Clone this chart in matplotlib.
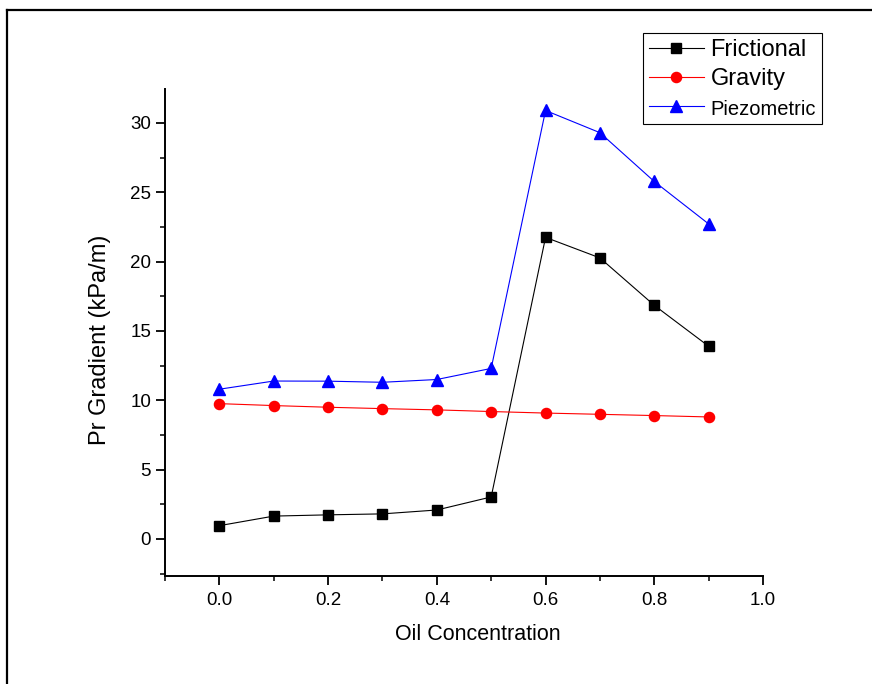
import matplotlib
matplotlib.use('Agg')
import matplotlib.pyplot as plt
from matplotlib.lines import Line2D
from matplotlib.ticker import MultipleLocator

plt.rcParams['font.family'] = ['Liberation Sans', 'DejaVu Sans']

# oil fraction in the mixture
oil_conc = [0.0, 0.1, 0.2, 0.3, 0.4, 0.5, 0.6, 0.7, 0.8, 0.9]

# pressure gradient components, kPa/m
frictional = [0.96, 1.65, 1.74, 1.81, 2.09, 3.03, 21.75, 20.27, 16.85, 13.9]
gravity = [9.76, 9.62, 9.5, 9.4, 9.31, 9.19, 9.08, 8.99, 8.9, 8.8]
piezometric = [10.8, 11.39, 11.38, 11.3, 11.5, 12.3, 30.9, 29.3, 25.78, 22.72]

series_names = ['Frictional', 'Gravity', 'Piezometric']
legend_sizes = [17, 17, 14.5]

fig = plt.figure(figsize=(8.72, 6.84), dpi=100)
ax = fig.add_axes([165 / 872, 108 / 684, 598 / 872, 487 / 684])

ax.plot(oil_conc, frictional, color='black', lw=0.8, marker='s', ms=6.7,
        label=series_names[0])
ax.plot(oil_conc, gravity, color='red', lw=0.8, marker='o', ms=7.3,
        label=series_names[1])
ax.plot(oil_conc, piezometric, color='blue', lw=0.8, marker='^', ms=8.5,
        label=series_names[2])

ax.set_xlim(-0.1, 1.0)
ax.set_ylim(-2.67, 32.45)
ax.xaxis.set_major_locator(MultipleLocator(0.2))
ax.xaxis.set_minor_locator(MultipleLocator(0.1))
ax.yaxis.set_major_locator(MultipleLocator(5))
ax.yaxis.set_minor_locator(MultipleLocator(2.5))
ax.xaxis.set_major_formatter(plt.FormatStrFormatter('%.1f'))

for side in ['top', 'right']:
    ax.spines[side].set_visible(False)
for side in ['left', 'bottom']:
    ax.spines[side].set_linewidth(1.4)

ax.tick_params(which='major', direction='out', length=6.5, width=1.3,
               labelsize=13.5)
ax.tick_params(axis='y', which='major', pad=3.5)
ax.tick_params(axis='x', which='major', pad=5)
ax.tick_params(which='minor', direction='out', length=3.6, width=1.1)

ax.set_xlabel('Oil Concentration', fontsize=15.5)
ax.set_ylabel('Pr Gradient (kPa/m)', fontsize=17)
ax.xaxis.set_label_coords((478 - 165) / 598, -(634 - 576) / 487)
ax.yaxis.set_label_coords(-(165 - 100) / 598, (576 - 340) / 487)
ax.xaxis.label.set_va('center')
ax.yaxis.label.set_va('center')

leg = ax.legend(loc='upper right', bbox_to_anchor=(822 / 872, 1 - 33 / 684),
                bbox_transform=fig.transFigure, fancybox=False, shadow=False,
                edgecolor='black', framealpha=1, handlelength=2.3,
                handletextpad=0.3, borderpad=0.25, labelspacing=0.32,
                borderaxespad=0, fontsize=17)
leg.get_frame().set_linewidth(0.8)
for txt, fs in zip(leg.get_texts(), legend_sizes):
    txt.set_fontsize(fs)

# frame lines along the top and left of the figure
fig.add_artist(Line2D([7 / 872, 7 / 872], [0, 1 - 10 / 684],
                      transform=fig.transFigure, color='black', lw=1.6))
fig.add_artist(Line2D([7 / 872, 1], [1 - 10 / 684, 1 - 10 / 684],
                      transform=fig.transFigure, color='black', lw=1.6))

fig.savefig('out.png', dpi=100)
